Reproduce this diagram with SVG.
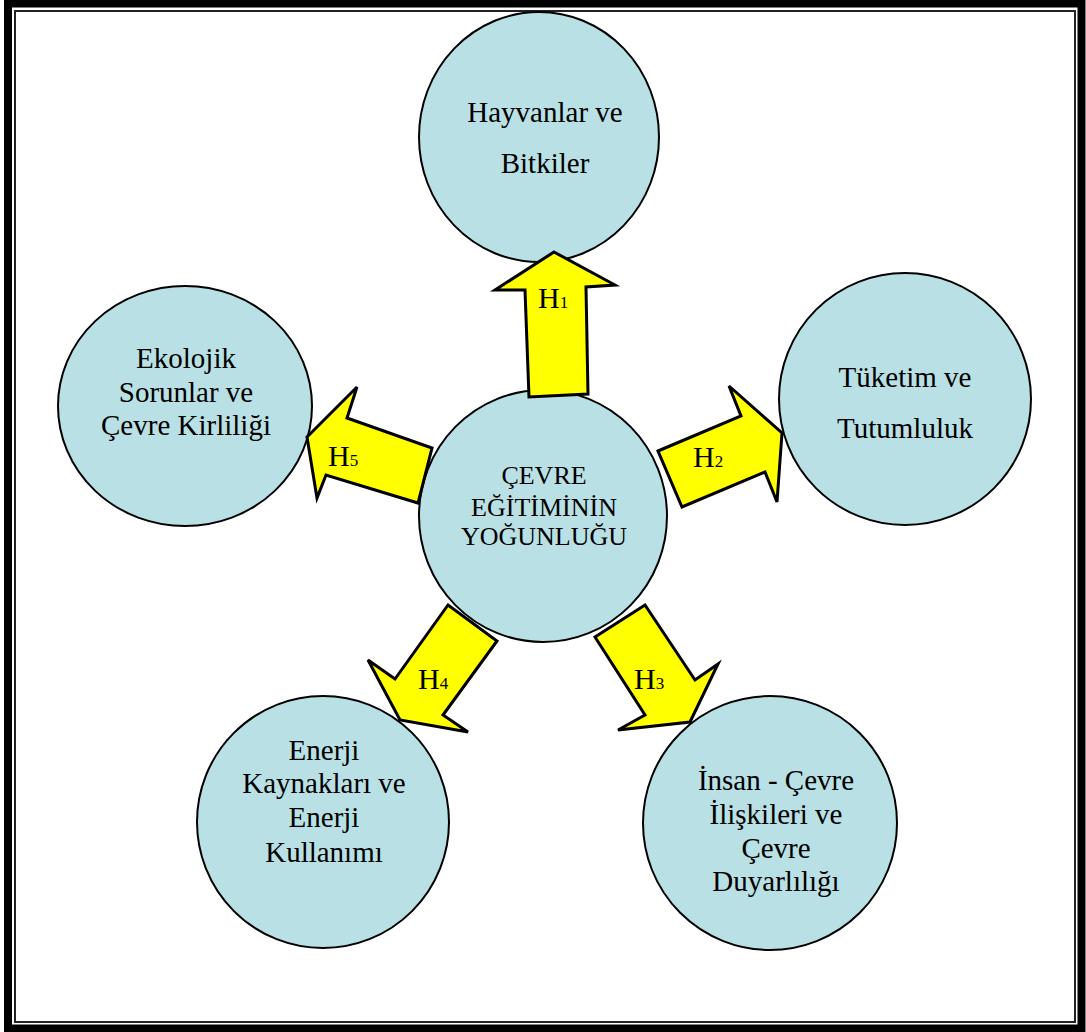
<svg xmlns="http://www.w3.org/2000/svg" width="1086" height="1032" viewBox="0 0 1086 1032">
<style>
.node ellipse{fill:#B9E0E4;stroke:#000;stroke-width:2}
.node text{font-family:"Liberation Serif","Times New Roman",serif;font-size:29px;fill:#000;text-anchor:middle}
#center text{font-size:26px}
.arrow{fill:#FFFF00;stroke:#000;stroke-width:3;stroke-linejoin:miter}
.lbl{font-family:"Liberation Serif","Times New Roman",serif;font-size:30px;fill:#000}
.sub{font-size:17px}
</style>
<rect x="0" y="0" width="1086" height="1032" fill="#fff"/>
<rect x="8" y="3.5" width="1073.5" height="1025" fill="none" stroke="#000" stroke-width="8"/>
<rect x="15" y="11" width="1060" height="1011" fill="none" stroke="#222" stroke-width="2"/>
<g id="n-hayvanlar" class="node">
<ellipse cx="539" cy="137" rx="120" ry="125"/>
<text x="545" y="122">Hayvanlar ve</text>
<text x="545" y="173">Bitkiler</text>
</g>
<g id="n-tuketim" class="node">
<ellipse cx="905" cy="399" rx="126" ry="126"/>
<text x="905" y="387">Tüketim ve</text>
<text x="905" y="438">Tutumluluk</text>
</g>
<g id="n-ekolojik" class="node">
<ellipse cx="185" cy="406" rx="127" ry="120"/>
<text x="186" y="368">Ekolojik</text>
<text x="186" y="402">Sorunlar ve</text>
<text x="186" y="435">Çevre Kirliliği</text>
</g>
<g id="n-enerji" class="node">
<ellipse cx="323" cy="822" rx="126" ry="126"/>
<text x="324" y="760">Enerji</text>
<text x="324" y="793">Kaynakları ve</text>
<text x="324" y="827">Enerji</text>
<text x="324" y="862">Kullanımı</text>
</g>
<g id="n-insan" class="node">
<ellipse cx="770" cy="823" rx="127" ry="127"/>
<text x="776" y="790">İnsan - Çevre</text>
<text x="776" y="824">İlişkileri ve</text>
<text x="776" y="858">Çevre</text>
<text x="776" y="891">Duyarlılığı</text>
</g>
<g id="center" class="node">
<ellipse cx="543" cy="516" rx="124" ry="126"/>
<text x="544" y="484">ÇEVRE</text>
<text x="544" y="516">EĞİTİMİNİN</text>
<text x="544" y="545">YOĞUNLUĞU</text>
</g>
<g id="connectors">
<polygon class="arrow" points="554,252 615,285 586,287 588,394 529,397 525,290 495,290"/>
<polygon class="arrow" points="658,451 741,416 729,386 782,433 777,502 765,472 682,507"/>
<polygon class="arrow" points="307,437 357,387 347,418 432,448 418,503 326,475 317,498"/>
<polygon class="arrow" points="448,605 497,641 443,715 468,732 400,720 368,660 395,679"/>
<polygon class="arrow" points="595,637 645,605 695,680 718,664 690,722 618,730 645,715"/>
<text class="lbl" x="538" y="308">H<tspan class="sub">1</tspan></text>
<text class="lbl" x="693" y="467">H<tspan class="sub">2</tspan></text>
<text class="lbl" x="634" y="689">H<tspan class="sub">3</tspan></text>
<text class="lbl" x="418" y="689">H<tspan class="sub">4</tspan></text>
<text class="lbl" x="328" y="466">H<tspan class="sub">5</tspan></text>
</g>
</svg>
